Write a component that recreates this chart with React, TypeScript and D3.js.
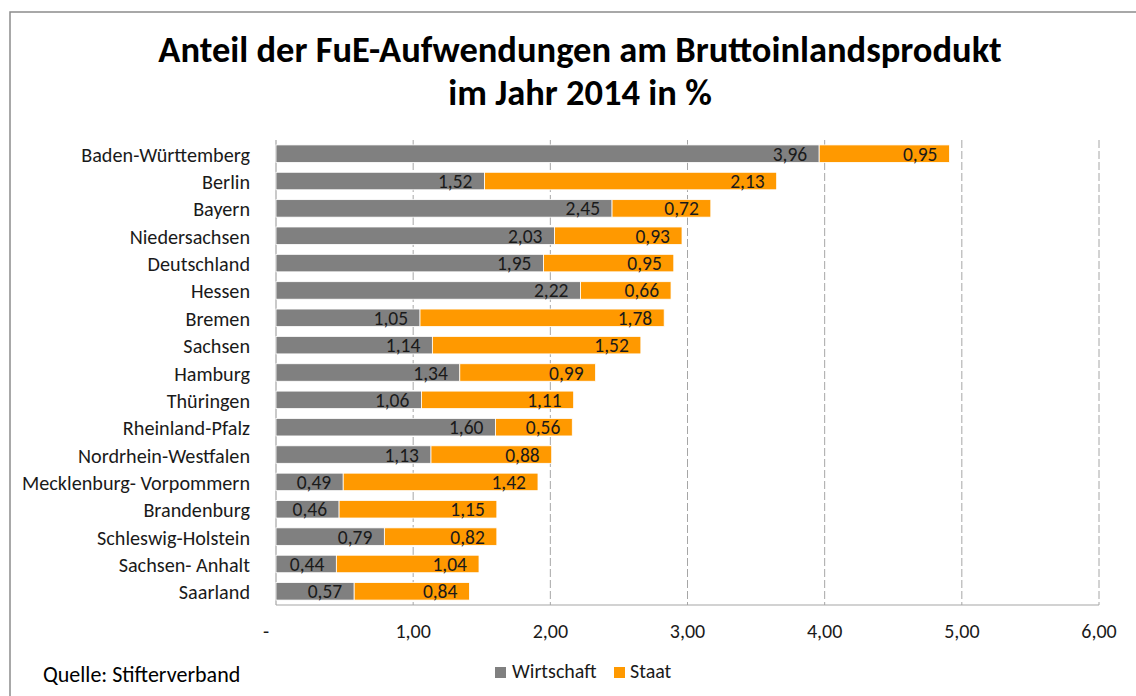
import React from "react";
import * as d3 from "d3";

const categories = [
  "Baden-Württemberg", "Berlin", "Bayern", "Niedersachsen", "Deutschland", "Hessen",
  "Bremen", "Sachsen", "Hamburg", "Thüringen", "Rheinland-Pfalz", "Nordrhein-Westfalen",
  "Mecklenburg- Vorpommern", "Brandenburg", "Schleswig-Holstein", "Sachsen- Anhalt", "Saarland",
];
const wirtschaft = [3.96, 1.52, 2.45, 2.03, 1.95, 2.22, 1.05, 1.14, 1.34, 1.06, 1.60, 1.13, 0.49, 0.46, 0.79, 0.44, 0.57];
const staat = [0.95, 2.13, 0.72, 0.93, 0.95, 0.66, 1.78, 1.52, 0.99, 1.11, 0.56, 0.88, 1.42, 1.15, 0.82, 1.04, 0.84];
const xTicks = [0, 1, 2, 3, 4, 5, 6];
const seriesNames = ["Wirtschaft", "Staat"];
const colors = ["#808080", "#FF9900"];

const W = 1136, H = 696;
const FONT = "Carlito, Lato, 'Open Sans', sans-serif";
const fmt = (v: number) => v.toFixed(2).replace(".", ",");

export default function App() {
  const x = d3.scaleLinear().domain([0, 6]).range([276, 1099]);
  const y = d3.scaleBand<string>().domain(categories).range([140, 605]).paddingInner(0.36).paddingOuter(0.18);
  const bh = y.bandwidth();
  const rows = categories.map((c, i) => ({ c, w: wirtschaft[i], s: staat[i] }));
  return (
    <svg width={W} height={H} style={{ display: "block", position: "absolute", left: 0, top: 0 }} fontFamily={FONT}>
      <rect x={0} y={0} width={W} height={H} fill="#fff" />
      <rect x={10} y={12} width={W + 20} height={H + 20} fill="none" stroke="#8c8c8c" strokeWidth={1.5} />
      <text x={580} y={62} textAnchor="middle" fontWeight="bold" fontSize={36.5} fill="#000">
        Anteil der FuE-Aufwendungen am Bruttoinlandsprodukt
      </text>
      <text x={580} y={105} textAnchor="middle" fontWeight="bold" fontSize={36.5} fill="#000">
        im Jahr 2014 in %
      </text>
      {xTicks.slice(1).map((t) => (
        <line key={t} x1={x(t)} x2={x(t)} y1={140} y2={605} stroke="#a6a6a6" strokeWidth={1} strokeDasharray="8 3" />
      ))}
      <line x1={x(0)} x2={x(0)} y1={140} y2={605} stroke="#a6a6a6" strokeWidth={1.2} />
      <line x1={x(0)} x2={x(6)} y1={605} y2={605} stroke="#a6a6a6" strokeWidth={1.2} />
      {rows.map((r) => {
        const y0 = y(r.c)!;
        const cy = y0 + bh / 2;
        return (
          <g key={r.c}>
            <rect x={x(0)} y={y0} width={x(r.w) - x(0)} height={bh} fill={colors[0]} stroke="#fff" strokeWidth={0.8} />
            <rect x={x(r.w)} y={y0} width={x(r.w + r.s) - x(r.w)} height={bh} fill={colors[1]} stroke="#fff" strokeWidth={0.8} />
            <text x={x(r.w) - 12} y={cy + 7} textAnchor="end" fontSize={19.5} fill="#1a1a1a">{fmt(r.w)}</text>
            <text x={x(r.w + r.s) - 12} y={cy + 7} textAnchor="end" fontSize={19.5} fill="#1a1a1a">{fmt(r.s)}</text>
            <text x={250} y={cy + 8} textAnchor="end" fontSize={20.2} fill="#1a1a1a">{r.c}</text>
          </g>
        );
      })}
      {xTicks.map((t) => (
        <text key={t} x={t === 0 ? 266 : x(t)} y={638} textAnchor="middle" fontSize={20} fill="#1a1a1a">
          {t === 0 ? "-" : fmt(t)}
        </text>
      ))}
      <rect x={495} y={667} width={11} height={11} fill={colors[0]} />
      <text x={512} y={678} fontSize={20} fill="#1a1a1a">{seriesNames[0]}</text>
      <rect x={614} y={667} width={11} height={11} fill={colors[1]} />
      <text x={630} y={678} fontSize={20} fill="#1a1a1a">{seriesNames[1]}</text>
      <text x={43} y={682} fontSize={22} fill="#000">Quelle: Stifterverband</text>
    </svg>
  );
}
